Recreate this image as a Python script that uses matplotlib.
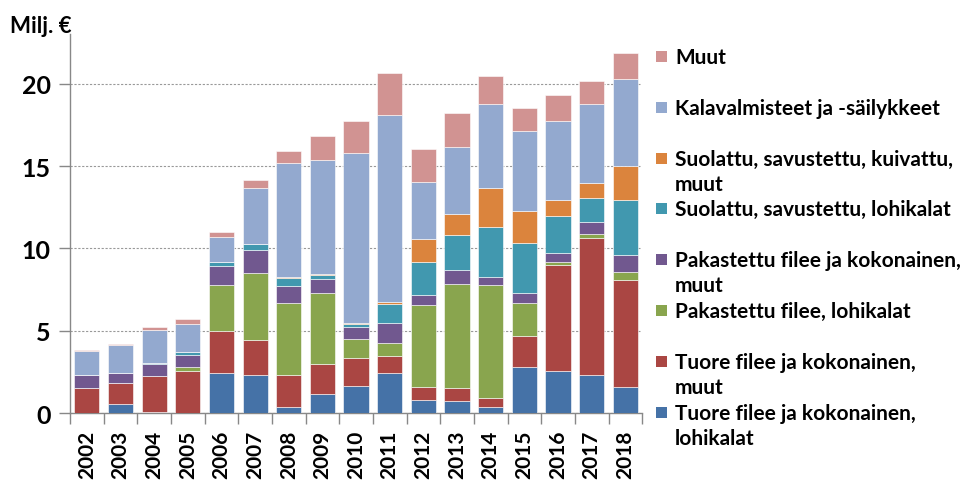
import numpy as np
import matplotlib
matplotlib.use("Agg")
import matplotlib.pyplot as plt
from matplotlib.patches import Rectangle

plt.rcParams["font.family"] = ["Lato", "DejaVu Sans"]
plt.rcParams["font.weight"] = "bold"

years = [str(y) for y in range(2002, 2019)]

tuore_lohi = [0.0, 0.53, 0.06, 0.0, 2.46, 2.34, 0.36, 1.15, 1.68, 2.42, 0.83, 0.75, 0.38, 2.81, 2.59, 2.34, 1.58]
tuore_muut = [1.5, 1.33, 2.18, 2.59, 2.53, 2.08, 1.94, 1.82, 1.65, 1.03, 0.75, 0.77, 0.53, 1.90, 6.40, 8.27, 6.48]
pakaste_lohi = [0.0, 0.0, 0.0, 0.22, 2.77, 4.06, 4.41, 4.30, 1.15, 0.81, 4.97, 6.34, 6.87, 1.96, 0.16, 0.26, 0.53]
pakaste_muut = [0.8, 0.6, 0.73, 0.71, 1.17, 1.40, 1.03, 0.85, 0.75, 1.19, 0.60, 0.85, 0.46, 0.60, 0.55, 0.71, 0.99]
suola_lohi = [0.0, 0.0, 0.10, 0.20, 0.22, 0.36, 0.46, 0.24, 0.16, 1.18, 2.00, 2.12, 3.03, 3.03, 2.26, 1.45, 3.37]
suola_muut = [0.0, 0.0, 0.0, 0.0, 0.0, 0.0, 0.08, 0.06, 0.10, 0.10, 1.40, 1.25, 2.41, 1.96, 0.99, 0.93, 2.04]
kalavalm = [1.48, 1.68, 1.96, 1.67, 1.52, 3.44, 6.91, 6.97, 10.31, 11.39, 3.47, 4.06, 5.07, 4.85, 4.79, 4.79, 5.31]
muut = [0.06, 0.04, 0.18, 0.35, 0.32, 0.50, 0.71, 1.44, 1.94, 2.55, 2.00, 2.10, 1.71, 1.42, 1.59, 1.39, 1.56]

series = [
    ("Tuore filee ja kokonainen,\nlohikalat", tuore_lohi, "#4572a7"),
    ("Tuore filee ja kokonainen,\nmuut", tuore_muut, "#aa4643"),
    ("Pakastettu filee, lohikalat", pakaste_lohi, "#89a54e"),
    ("Pakastettu filee ja kokonainen,\nmuut", pakaste_muut, "#71588f"),
    ("Suolattu, savustettu, lohikalat", suola_lohi, "#4198af"),
    ("Suolattu, savustettu, kuivattu,\nmuut", suola_muut, "#db843d"),
    ("Kalavalmisteet ja -säilykkeet", kalavalm, "#93a9cf"),
    ("Muut", muut, "#d19392"),
]

fig = plt.figure(figsize=(9.78, 4.89), dpi=100)
ax = fig.add_axes([0.0716, 0.153, 0.585, 0.775])

x = np.arange(len(years))
bottom = np.zeros(len(years))
for label, vals, color in series:
    vals = np.array(vals)
    ax.bar(x, vals, 0.75, bottom=bottom, color=color, edgecolor="white", linewidth=0.4, zorder=3)
    bottom += vals

ax.set_xlim(-0.5, len(years) - 0.5)
ax.set_ylim(0, 23)
ax.set_yticks([0, 5, 10, 15, 20])
ax.set_yticklabels(["0", "5", "10", "15", "20"], fontsize=18, fontweight="bold")
ax.yaxis.grid(True, linestyle=(0, (2, 1.5)), color="#999999", linewidth=0.8, zorder=0)

ax.set_xticks(x)
ax.set_xticklabels(years, rotation=90, fontsize=15, fontweight="bold", va="top")
ax.tick_params(axis="x", length=0, pad=12)
ax.set_xticks(np.arange(-0.5, len(years)), minor=True)
ax.tick_params(axis="x", which="minor", length=8, color="#888888", width=1)
ax.tick_params(axis="y", length=8, color="#888888", width=1, pad=6)

for s in ["top", "right"]:
    ax.spines[s].set_visible(False)
for s in ["left", "bottom"]:
    ax.spines[s].set_color("#888888")
    ax.spines[s].set_linewidth(1)

fig.text(0.010, 0.945, "Milj. €", fontsize=16, fontweight="bold", va="center", ha="left")

# legend, drawn top to bottom
leg_top = 1 - 58 / 489
step = 50.8 / 489
for i, (label, vals, color) in enumerate(reversed(series)):
    yy = leg_top - i * step
    fig.add_artist(Rectangle((656 / 978, yy - 5 / 489), 11 / 978, 11 / 489,
                             transform=fig.transFigure, facecolor=color, edgecolor="none"))
    fig.text(675 / 978, yy + 10 / 489, label, fontsize=15, fontweight="bold",
             va="top", ha="left", linespacing=1.33)

fig.savefig("out.png", dpi=100)
